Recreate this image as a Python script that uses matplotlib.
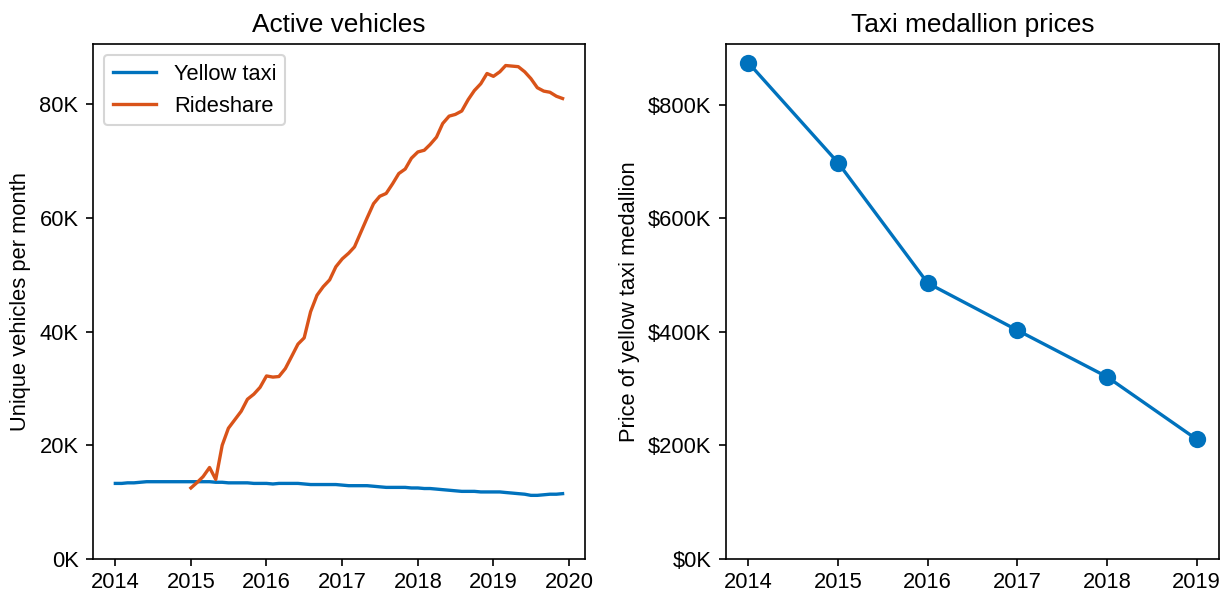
import matplotlib

matplotlib.use("Agg")
import matplotlib.pyplot as plt
import matplotlib.dates as mdates
import numpy as np
import pandas as pd
from matplotlib.ticker import FuncFormatter

plt.rcParams["font.family"] = ["Liberation Sans", "DejaVu Sans"]
plt.rcParams["font.size"] = 10.5
plt.rcParams["axes.titlesize"] = 12.6
plt.rcParams["xtick.major.pad"] = 2.6

BLUE = "#0072BD"
ORANGE = "#D95319"

# monthly unique vehicles, thousands
YELLOW_START = "2014-01-01"
YELLOW_K = [
    13.3, 13.3, 13.4, 13.4, 13.5, 13.6, 13.6, 13.6, 13.6, 13.6, 13.6, 13.6,
    13.6, 13.6, 13.6, 13.6, 13.5, 13.5, 13.4, 13.4, 13.4, 13.4, 13.3, 13.3,
    13.3, 13.2, 13.3, 13.3, 13.3, 13.3, 13.2, 13.1, 13.1, 13.1, 13.1, 13.1,
    13.0, 12.9, 12.9, 12.9, 12.9, 12.8, 12.7, 12.6, 12.6, 12.6, 12.6, 12.5,
    12.5, 12.4, 12.4, 12.3, 12.2, 12.1, 12.0, 11.9, 11.9, 11.9, 11.8, 11.8,
    11.8, 11.8, 11.7, 11.6, 11.5, 11.4, 11.2, 11.2, 11.3, 11.4, 11.4, 11.5,
]
RIDESHARE_START = "2015-01-01"
RIDESHARE_K = [
    12.5, 13.5, 14.5, 16.1, 14.0, 20.0, 23.0, 24.5, 26.0, 28.1, 29.0, 30.2,
    32.2, 32.0, 32.1, 33.5, 35.6, 37.8, 38.9, 43.5, 46.4, 47.9, 49.1, 51.4,
    52.8, 53.8, 54.9, 57.5, 60.0, 62.5, 63.8, 64.3, 66.0, 67.8, 68.6, 70.5,
    71.6, 71.9, 72.9, 74.2, 76.6, 77.9, 78.2, 78.8, 80.8, 82.4, 83.6, 85.4,
    84.9, 85.7, 86.8, 86.7, 86.6, 85.7, 84.5, 82.9, 82.3, 82.1, 81.4, 81.0,
]

# medallion price, thousands of dollars
PRICE_YEARS = [2014, 2015, 2016, 2017, 2018, 2019]
PRICE_K = [874, 698, 486, 403, 321, 211]


def main() -> None:
    fig = plt.figure(figsize=(8.1667, 3.9467), dpi=150)
    ax1 = fig.add_axes([0.0759, 0.0557, 0.4016, 0.8699])
    ax2 = fig.add_axes([0.5927, 0.0557, 0.4024, 0.8699])

    yellow_dates = pd.date_range(YELLOW_START, periods=len(YELLOW_K), freq="MS")
    ride_dates = pd.date_range(RIDESHARE_START, periods=len(RIDESHARE_K), freq="MS")
    ax1.plot(yellow_dates, np.array(YELLOW_K) * 1000, color=BLUE, lw=1.6, label="Yellow taxi")
    ax1.plot(ride_dates, np.array(RIDESHARE_K) * 1000, color=ORANGE, lw=1.6, label="Rideshare")
    ax1.set_ylim(bottom=0)
    ax1.xaxis.set_major_locator(mdates.YearLocator())
    ax1.xaxis.set_major_formatter(mdates.DateFormatter("%Y"))
    ax1.yaxis.set_major_formatter(FuncFormatter(lambda v, _: f"{v / 1000:.0f}K"))
    ax1.set_ylabel("Unique vehicles per month")
    ax1.set_title("Active vehicles")
    ax1.legend(loc="upper left")

    ax2.plot(PRICE_YEARS, np.array(PRICE_K) * 1000, "o-", color=BLUE, lw=1.6, ms=7.3)
    ax2.set_ylim(bottom=0)
    ax2.set_xticks(PRICE_YEARS)
    ax2.yaxis.set_major_formatter(FuncFormatter(lambda v, _: f"${v / 1000:.0f}K"))
    ax2.set_ylabel("Price of yellow taxi medallion")
    ax2.set_title("Taxi medallion prices")

    fig.savefig("out.png", dpi=150)


if __name__ == "__main__":
    main()
